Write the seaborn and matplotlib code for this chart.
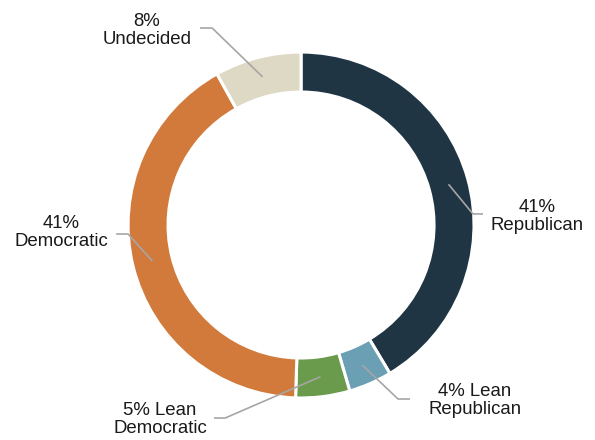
import numpy as np
import seaborn as sns
import matplotlib.pyplot as plt

# data
groups = ["Republican", "Lean Republican", "Lean Democratic", "Democratic", "Undecided"]
shares = [41, 4, 5, 41, 8]
labels = ["41%\nRepublican", "4% Lean\nRepublican", "5% Lean\nDemocratic",
          "41%\nDemocratic", "8%\nUndecided"]
colors = ["#1f3544", "#6a9fb4", "#6a9a4b", "#d27a3b", "#ddd9c4"]

# leader line elbow and label positions (pie radius = 1)
elbows = [(0.994, 0.064), (0.561, -1.006), (-0.439, -1.116), (-1.0, -0.052), (-0.514, 1.139)]
ends = [(1.052, 0.064), (0.630, -1.006), (-0.503, -1.116), (-1.069, -0.052), (-0.584, 1.139)]
text_pos = [(1.364, 0.049), (1.006, -1.012), (-0.815, -1.124), (-1.387, -0.046), (-0.890, 1.124)]

sns.set_theme(style="white")
plt.rcParams["font.family"] = ["Liberation Sans", "DejaVu Sans"]

fig = plt.figure(figsize=(5.95, 4.4), dpi=100)
ax = fig.add_axes([0, 0, 1, 1])

wedges, _ = ax.pie(shares, colors=colors, startangle=90, counterclock=False,
                   radius=1.0,
                   wedgeprops=dict(width=0.231, edgecolor="white", linewidth=2.2))

mid_r = 1.0 - 0.231 / 2
for w, lab, el, en, tp in zip(wedges, labels, elbows, ends, text_pos):
    ang = np.deg2rad((w.theta1 + w.theta2) / 2)
    sx, sy = mid_r * np.cos(ang), mid_r * np.sin(ang)
    ax.plot([sx, el[0], en[0]], [sy, el[1], en[1]], color="#a6a6a6", lw=1.2,
            solid_capstyle="butt", zorder=3)
    ax.text(tp[0], tp[1], lab, ha="center", va="center", fontsize=13.4,
            linespacing=1.08, color="#1a1a1a")

ax.set_xlim(-1.740, 1.699)
ax.set_ylim(-1.243, 1.301)
ax.set_aspect("equal")
ax.axis("off")

fig.savefig("out.png", dpi=100)
